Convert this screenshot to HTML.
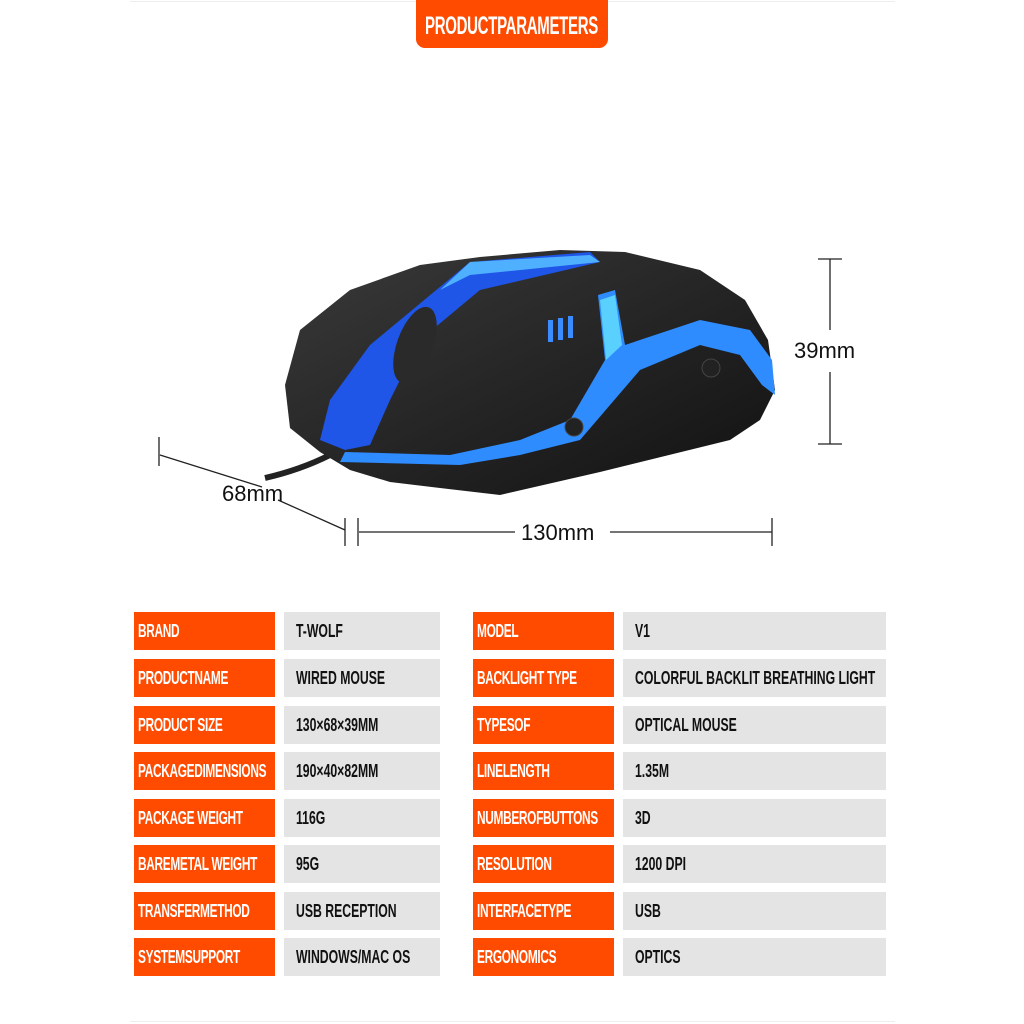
<!DOCTYPE html>
<html><head><meta charset="utf-8"><style>
body{margin:0;width:1024px;height:1024px;background:#fff;position:relative;overflow:hidden;font-family:"Liberation Sans",sans-serif}
.b{position:absolute;height:38px}
.o{background:#fe4b00}
.g{background:#e4e4e4}
.t{position:absolute;top:0;line-height:38px;font-weight:bold;font-size:18px;white-space:nowrap;transform:scaleX(0.66);transform-origin:left center}
.o .t{color:#fff;left:4px;letter-spacing:-0.5px}
.g .t{color:#111;left:12px;transform:scaleX(0.68)}
.dim{position:absolute;font-size:22px;color:#111}
</style></head><body>
<div style="position:absolute;left:130px;top:1px;width:765px;height:1px;background:#eee"></div>
<div style="position:absolute;left:130px;top:1021px;width:765px;height:1px;background:#eee"></div>
<div style="position:absolute;left:416px;top:0;width:192px;height:48px;background:#fe4b00;border-radius:0 0 9px 9px"><span style="position:absolute;left:9px;top:12px;color:#fff;font-weight:bold;font-size:25px;transform:scaleX(0.6);transform-origin:left top;white-space:nowrap;letter-spacing:-0.5px">PRODUCTPARAMETERS</span></div>

<svg style="position:absolute;left:0;top:0" width="1024" height="600">
<defs><linearGradient id="bd" x1="0" y1="0" x2="1" y2="1"><stop offset="0" stop-color="#3a3a3a"/><stop offset="1" stop-color="#111"/></linearGradient></defs>
<path d="M330 455 Q300 470 265 478" stroke="#222" stroke-width="6" fill="none"/>
<path d="M285 385 L300 330 L350 290 L420 265 L480 257 L560 250 L625 252 L700 270 L745 300 L768 340 L775 390 L760 420 L730 440 L600 472 L500 495 L440 488 L390 482 L350 470 L320 452 L290 428 Z" fill="url(#bd)"/>
<path d="M470 262 L590 252 L600 262 L480 290 L420 340 L390 400 L370 445 L345 450 L320 440 L330 400 L370 345 Z" fill="#1f56e8"/>
<path d="M600 262 L590 255 L470 262 L440 290 L470 275 Z" fill="#4fb0ff"/>
<path d="M598 295 L615 290 L625 345 L700 320 L750 330 L772 360 L775 395 L762 385 L740 355 L700 345 L640 370 L580 440 L520 455 L460 465 L340 462 L345 452 L450 455 L520 440 L570 420 L605 360 Z" fill="#2f8cff"/>
<path d="M600 300 L615 295 L622 345 L606 360 Z" fill="#5ad0ff"/>
<rect x="548" y="320" width="5" height="22" fill="#3a8cff"/><rect x="558" y="318" width="5" height="22" fill="#3a8cff"/><rect x="568" y="316" width="5" height="22" fill="#3a8cff"/>
<ellipse cx="415" cy="345" rx="18" ry="40" fill="#2a2a2a" transform="rotate(20 415 345)"/>
<circle cx="711" cy="368" r="9" fill="#222" stroke="#444"/><circle cx="574" cy="427" r="9" fill="#222" stroke="#444"/>
<g stroke="#222" stroke-width="1.3" fill="none">
<path d="M818 259 H842 M830 259 V330 M830 372 V444 M818 444 H842"/>
<path d="M159 437 V466 M160 455 L262 487 M278 500 L345 530 M345 518 V546 M358 518 V546 M359 532 H515 M610 532 H772 M772 518 V546"/>
</g>
</svg>
<div class="dim" style="left:794px;top:338px">39mm</div>
<div class="dim" style="left:222px;top:481px">68mm</div>
<div class="dim" style="left:521px;top:520px">130mm</div>

<div class="b o" style="left:134px;top:612px;width:141px"><span class="t">BRAND</span></div><div class="b g" style="left:284px;top:612px;width:156px"><span class="t">T-WOLF</span></div>
<div class="b o" style="left:473px;top:612px;width:141px"><span class="t">MODEL</span></div><div class="b g" style="left:623px;top:612px;width:263px"><span class="t">V1</span></div>

<div class="b o" style="left:134px;top:659px;width:141px"><span class="t">PRODUCTNAME</span></div><div class="b g" style="left:284px;top:659px;width:156px"><span class="t">WIRED MOUSE</span></div>
<div class="b o" style="left:473px;top:659px;width:141px"><span class="t">BACKLIGHT TYPE</span></div><div class="b g" style="left:623px;top:659px;width:263px"><span class="t">COLORFUL BACKLIT BREATHING LIGHT</span></div>

<div class="b o" style="left:134px;top:706px;width:141px"><span class="t">PRODUCT SIZE</span></div><div class="b g" style="left:284px;top:706px;width:156px"><span class="t">130×68×39MM</span></div>
<div class="b o" style="left:473px;top:706px;width:141px"><span class="t">TYPESOF</span></div><div class="b g" style="left:623px;top:706px;width:263px"><span class="t">OPTICAL MOUSE</span></div>

<div class="b o" style="left:134px;top:752px;width:141px"><span class="t">PACKAGEDIMENSIONS</span></div><div class="b g" style="left:284px;top:752px;width:156px"><span class="t">190×40×82MM</span></div>
<div class="b o" style="left:473px;top:752px;width:141px"><span class="t">LINELENGTH</span></div><div class="b g" style="left:623px;top:752px;width:263px"><span class="t">1.35M</span></div>

<div class="b o" style="left:134px;top:799px;width:141px"><span class="t">PACKAGE WEIGHT</span></div><div class="b g" style="left:284px;top:799px;width:156px"><span class="t">116G</span></div>
<div class="b o" style="left:473px;top:799px;width:141px"><span class="t">NUMBEROFBUTTONS</span></div><div class="b g" style="left:623px;top:799px;width:263px"><span class="t">3D</span></div>

<div class="b o" style="left:134px;top:845px;width:141px"><span class="t">BAREMETAL WEIGHT</span></div><div class="b g" style="left:284px;top:845px;width:156px"><span class="t">95G</span></div>
<div class="b o" style="left:473px;top:845px;width:141px"><span class="t">RESOLUTION</span></div><div class="b g" style="left:623px;top:845px;width:263px"><span class="t">1200 DPI</span></div>

<div class="b o" style="left:134px;top:892px;width:141px"><span class="t">TRANSFERMETHOD</span></div><div class="b g" style="left:284px;top:892px;width:156px"><span class="t">USB RECEPTION</span></div>
<div class="b o" style="left:473px;top:892px;width:141px"><span class="t">INTERFACETYPE</span></div><div class="b g" style="left:623px;top:892px;width:263px"><span class="t">USB</span></div>

<div class="b o" style="left:134px;top:938px;width:141px"><span class="t">SYSTEMSUPPORT</span></div><div class="b g" style="left:284px;top:938px;width:156px"><span class="t">WINDOWS/MAC OS</span></div>
<div class="b o" style="left:473px;top:938px;width:141px"><span class="t">ERGONOMICS</span></div><div class="b g" style="left:623px;top:938px;width:263px"><span class="t">OPTICS</span></div>
</body></html>
